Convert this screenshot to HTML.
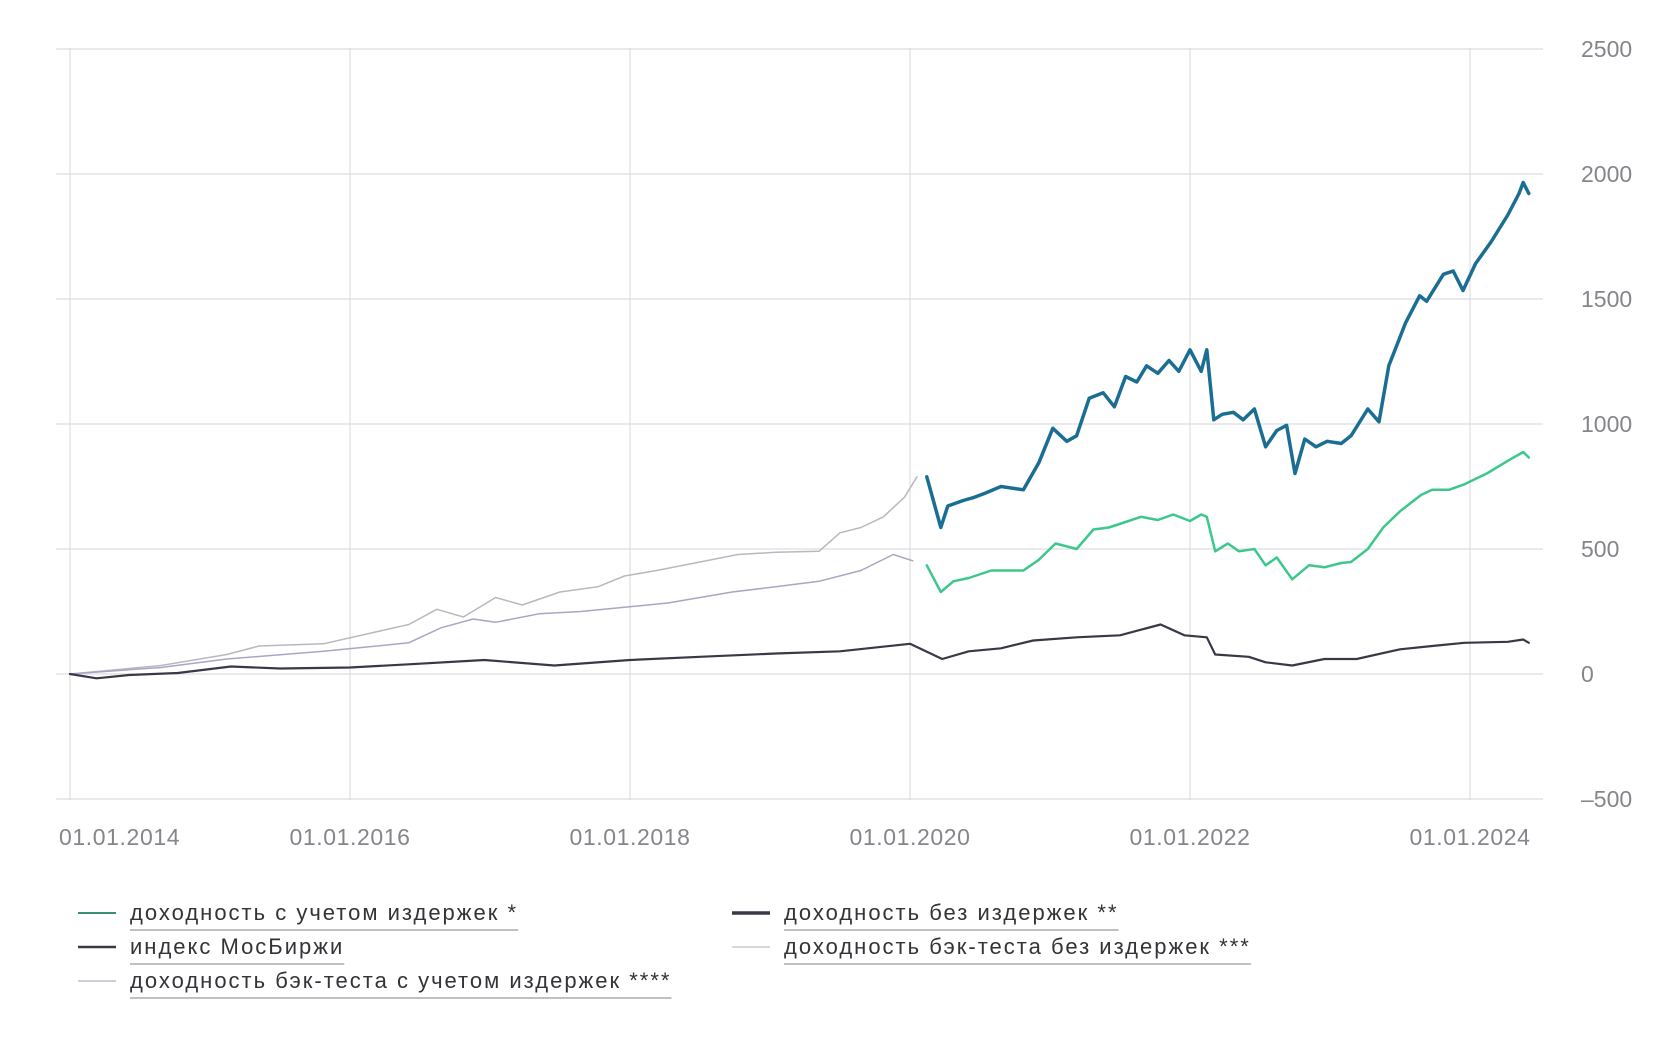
<!DOCTYPE html>
<html><head><meta charset="utf-8"><style>
html,body{margin:0;padding:0;background:#fff;}
body{width:1680px;height:1036px;overflow:hidden;font-family:"Liberation Sans",sans-serif;}
svg text{font-family:"Liberation Sans",sans-serif;}
</style></head><body>
<svg id="chart" width="1680" height="1036" viewBox="0 0 1680 1036" xmlns="http://www.w3.org/2000/svg">
<g id="grid"></g>
<g id="ylabels"></g>
<g id="xlabels"></g>
<g id="series"></g>
<g id="legend"></g>
</svg>
<script>
const yTicks = [2500, 2000, 1500, 1000, 500, 0, -500];
const xTickYears = [2014, 2016, 2018, 2020, 2022, 2024];
const xTickLabels = ["01.01.2014", "01.01.2016", "01.01.2018", "01.01.2020", "01.01.2022", "01.01.2024"];

const blueDates = [2020.12,2020.22,2020.27,2020.38,2020.46,2020.54,2020.65,2020.81,2020.92,2021.02,2021.12,2021.19,2021.28,2021.38,2021.46,2021.54,2021.62,2021.69,2021.77,2021.85,2021.92,2022.00,2022.08,2022.12,2022.17,2022.23,2022.31,2022.38,2022.46,2022.54,2022.62,2022.69,2022.75,2022.82,2022.90,2022.98,2023.08,2023.15,2023.27,2023.35,2023.42,2023.54,2023.64,2023.69,2023.81,2023.88,2023.95,2024.04,2024.15,2024.27,2024.35,2024.38,2024.42];
const blueValues = [789,586,672,694,707,724,750,737,845,983,931,953,1103,1125,1069,1190,1168,1233,1203,1254,1211,1297,1211,1297,1017,1039,1047,1017,1060,909,974,995,802,940,909,931,922,953,1060,1009,1233,1405,1513,1491,1599,1612,1534,1642,1728,1836,1922,1966,1922];

const greenDates = [2020.12,2020.22,2020.31,2020.42,2020.58,2020.81,2020.92,2021.04,2021.19,2021.31,2021.42,2021.54,2021.65,2021.77,2021.88,2022.00,2022.08,2022.12,2022.18,2022.27,2022.35,2022.46,2022.54,2022.62,2022.73,2022.85,2022.96,2023.08,2023.15,2023.27,2023.38,2023.50,2023.65,2023.73,2023.85,2023.96,2024.12,2024.27,2024.38,2024.42];
const greenValues = [435,328,371,384,414,414,457,522,500,578,586,608,629,616,638,612,638,629,491,522,491,500,435,466,379,435,427,444,448,500,586,651,716,737,737,759,802,853,888,866];

const indexDates = [2014.00,2014.19,2014.42,2014.77,2015.15,2015.50,2016.00,2016.42,2016.96,2017.46,2018.00,2018.50,2019.04,2019.50,2020.00,2020.23,2020.42,2020.65,2020.88,2021.19,2021.50,2021.79,2021.96,2022.12,2022.18,2022.42,2022.54,2022.73,2022.96,2023.19,2023.50,2023.73,2023.96,2024.27,2024.38,2024.42];
const indexValues = [0,-17,-4,4,30,22,26,39,56,34,56,69,82,91,121,60,91,103,134,147,155,198,155,147,78,69,47,34,60,60,99,112,125,129,138,125];

const btNoCostDates = [2014.00,2014.65,2015.12,2015.35,2015.81,2016.42,2016.62,2016.81,2017.04,2017.23,2017.50,2017.77,2017.96,2018.19,2018.50,2018.77,2019.04,2019.35,2019.50,2019.65,2019.81,2019.96,2020.05];
const btNoCostValues = [0,34,78,112,121,198,259,228,306,276,328,349,392,414,448,478,487,491,565,586,629,707,789];

const btCostDates = [2014.00,2014.65,2015.12,2015.81,2016.42,2016.65,2016.88,2017.04,2017.35,2017.65,2017.96,2018.27,2018.73,2019.04,2019.35,2019.65,2019.88,2020.02];
const btCostValues = [0,26,60,91,125,185,220,207,241,250,267,284,328,349,371,414,478,453];

const NS = "http://www.w3.org/2000/svg";
const X0 = 70, PX_PER_YEAR = 140, Y0 = 674, PX_PER_UNIT = 0.25;
const LEFT = 56, RIGHT = 1543;
function xScale(yr){ return X0 + (yr - 2014) * PX_PER_YEAR; }
function yScale(v){ return Y0 - v * PX_PER_UNIT; }
function mk(tag, attrs, parent){
  const el = document.createElementNS(NS, tag);
  for (const k in attrs) el.setAttribute(k, attrs[k]);
  parent.appendChild(el);
  return el;
}
const grid = document.getElementById('grid');
yTicks.forEach(function(t){
  const l = mk('line', {x1: LEFT, x2: RIGHT, y1: yScale(t), y2: yScale(t), stroke: '#dedee2', 'stroke-width': 1.2}, grid);
  
  
  const tx = mk('text', {x: 1581, y: yScale(t) + 8, 'font-size': 23, fill: '#85858b', 'letter-spacing': '0'}, document.getElementById('ylabels'));
  tx.textContent = String(t).replace('-', '–');
  
  
});
xTickYears.forEach(function(yr, i){
  const l = mk('line', {x1: xScale(yr), x2: xScale(yr), y1: 48, y2: 800, stroke: '#dedee2', 'stroke-width': 1.2}, grid);
  
  
  const tx = mk('text', {x: i === 0 ? 59 : xScale(yr), y: 845, 'font-size': 23, fill: '#85858b', 'letter-spacing': '0.6', 'text-anchor': i === 0 ? 'start' : 'middle'}, document.getElementById('xlabels'));
  tx.textContent = xTickLabels[i];
  
  
});
function drawLine(dates, values, color, width, name){
  let d = '';
  dates.forEach(function(yr, i){ d += (i ? 'L' : 'M') + xScale(yr).toFixed(1) + ' ' + yScale(values[i]).toFixed(1); });
  const p = mk('path', {d: d, fill: 'none', stroke: color, 'stroke-width': width, 'stroke-linejoin': 'round', 'stroke-linecap': 'round'}, document.getElementById('series'));
  
  
}
drawLine(btNoCostDates, btNoCostValues, '#b8b8c0', 1.5, 'backtest-no-costs-line');
drawLine(btCostDates, btCostValues, '#a8a6c4', 1.5, 'backtest-with-costs-line');
drawLine(indexDates, indexValues, '#3a3848', 2.2, 'moex-index-line');
drawLine(greenDates, greenValues, '#3cc88a', 2.5, 'return-with-costs-line');
drawLine(blueDates, blueValues, '#1a6e93', 3.5, 'return-no-costs-line');

const legendLabels = ["доходность с учетом издержек *", "индекс МосБиржи", "доходность бэк-теста с учетом издержек ****", "доходность без издержек **", "доходность бэк-теста без издержек ***"];
const legendColors = ['#3a9070', '#3a3848', '#b0b0c8', '#3a3848', '#c0c0c8'];
const legendWidths = [2, 2.5, 1.2, 3.5, 1.2];
const legendPos = [[78, 913], [78, 947], [78, 981], [732, 913], [732, 947]];
const lg = document.getElementById('legend');
legendLabels.forEach(function(lab, i){
  const g = mk('g', {}, lg);
  
  
  const px = legendPos[i][0], py = legendPos[i][1];
  mk('line', {x1: px, x2: px + 38, y1: py, y2: py, stroke: legendColors[i], 'stroke-width': legendWidths[i]}, g);
  const t = mk('text', {x: px + 52, y: py + 7, 'font-size': 22, fill: '#333338', 'letter-spacing': '2'}, g);
  t.textContent = lab;
  
  
  const w = t.getComputedTextLength();
  mk('line', {x1: px + 52, x2: px + 52 + w, y1: py + 17, y2: py + 17, stroke: '#9a9aa0', 'stroke-width': 1.2}, g);
});
</script>
</body></html>
